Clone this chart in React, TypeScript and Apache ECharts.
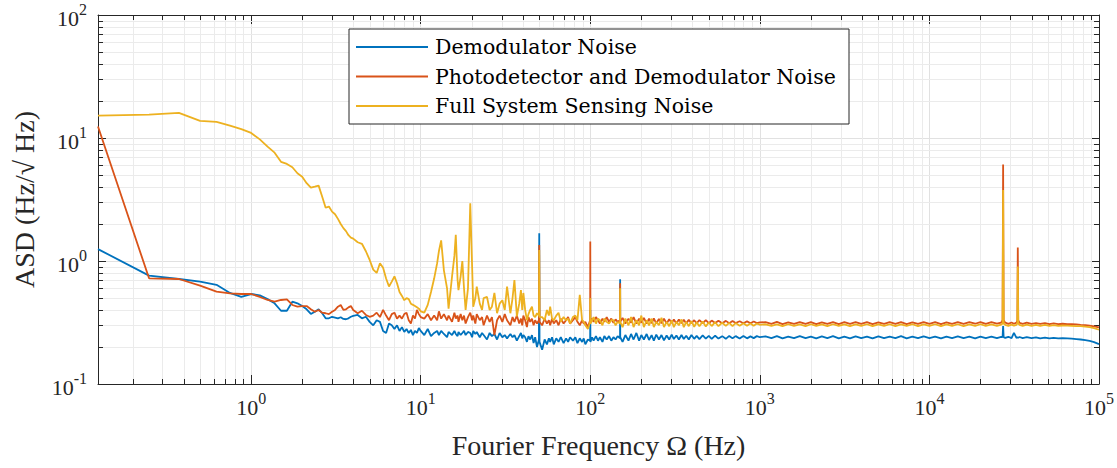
import React, { useEffect, useRef } from "react";
import * as echarts from "echarts";

// Fourier frequency bins (Hz)
const freqHz = [
  0.125, 0.25, 0.375, 0.5, 0.625, 0.75, 0.875, 1, 1.125, 1.25, 1.375, 1.5, 1.625, 1.75, 1.875, 2,
  2.125, 2.25, 2.375, 2.5, 2.625, 2.75, 2.875, 3, 3.125, 3.25, 3.375, 3.5, 3.625, 3.75, 3.875, 4,
  4.25, 4.5, 4.75, 5,
  5.25, 5.5, 5.75, 6, 6.25, 6.5, 6.75, 7, 7.25, 7.5, 7.75, 8, 8.25, 8.5, 8.75, 9, 9.25, 9.5, 9.75, 10,
  10.5, 11, 11.5, 12, 12.5, 12.8, 13.2, 13.7, 14.3, 14.6, 15.3, 15.8, 16.1, 16.5, 16.7, 17.2, 17.6, 18,
  18.4, 19, 19.6, 20.1, 20.4, 21, 21.4, 22.3, 23, 23.5, 24.6, 25.5, 26.3, 27.2, 28.2, 29.2, 30.3, 31.3,
  32.3, 33.8, 34.8, 35.7, 36.9, 38.1, 39, 39.7, 40.3, 41.3, 42.3, 43.2, 44.2, 45.3, 46.3, 47.3, 48.5,
  49.8, 50, 50.2,
  52, 53.8, 55.5, 57, 58, 59.5, 60.9, 63, 65, 67, 69.6, 72, 74, 76, 79, 81.6, 84, 86.7, 89.5, 91.5,
  93.5, 96.8, 99.8, 100, 100.2, 102.5, 104.6, 108, 111, 114, 118, 121, 125, 129, 133, 137, 141, 145,
  149.8, 150, 150.2,
  155, 161, 168, 174, 180, 187, 194, 200, 207, 215, 222, 230, 237, 245, 254, 263, 272, 282, 292, 302,
  311, 322, 333, 345, 356, 368, 381, 395, 410, 424, 440, 460, 480, 500, 520, 545, 570, 600, 630, 660,
  690, 720, 760, 800, 840, 880, 920, 960, 1000,
  1080, 1170, 1260, 1360, 1470, 1590, 1720, 1860, 2000, 2150, 2320, 2500, 2700, 2920, 3150, 3400,
  3670, 3960, 4280, 4620, 5000, 5400, 5830, 6300, 6800, 7340, 7930, 8560, 9250, 10000, 10800, 11700,
  12600, 13600, 14700, 15900, 17200, 18600, 20000, 21500, 23200, 25000, 26500, 27000, 27200, 27400,
  28000, 29200, 30500, 31500, 32600, 33000, 33200, 33400, 34000, 35500, 37500, 40000, 42500, 45000,
  48000, 51000, 54000, 57500, 61000, 65000, 69000, 73500, 78000, 83000, 88000, 93500, 100000,
];

// ASD, Hz/sqrt(Hz)
const demodulatorNoise = [
  1.25, 0.76, 0.714, 0.68, 0.64, 0.55, 0.51, 0.539, 0.526, 0.49, 0.453, 0.394, 0.394, 0.467, 0.453, 0.43,
  0.405, 0.371, 0.387, 0.405, 0.376, 0.342, 0.342, 0.352, 0.347, 0.342, 0.349, 0.338, 0.336, 0.342, 0.352, 0.358,
  0.364, 0.342, 0.352, 0.32,
  0.3, 0.33, 0.32, 0.27, 0.26, 0.31, 0.3, 0.28, 0.3, 0.27, 0.29, 0.265, 0.28, 0.26, 0.275, 0.25, 0.27, 0.26, 0.285, 0.27,
  0.25, 0.28, 0.245, 0.26, 0.27, 0.25, 0.27, 0.255, 0.24, 0.265, 0.25, 0.27, 0.255, 0.245, 0.265, 0.25, 0.26, 0.27,
  0.25, 0.265, 0.26, 0.24, 0.27, 0.255, 0.265, 0.24, 0.26, 0.25, 0.23, 0.26, 0.245, 0.255, 0.23, 0.26, 0.24, 0.25,
  0.235, 0.255, 0.24, 0.25, 0.225, 0.245, 0.26, 0.235, 0.25, 0.24, 0.22, 0.245, 0.23, 0.25, 0.215, 0.24, 0.2,
  0.23, 1.68, 0.22,
  0.19, 0.23, 0.21, 0.235, 0.22, 0.24, 0.21, 0.235, 0.22, 0.24, 0.215, 0.235, 0.22, 0.24, 0.225, 0.24, 0.215, 0.235, 0.22, 0.235,
  0.21, 0.23, 0.225, 0.4, 0.22, 0.24, 0.225, 0.245, 0.225, 0.24, 0.22, 0.245, 0.23, 0.245, 0.225, 0.24, 0.23, 0.245,
  0.235, 0.71, 0.24,
  0.22, 0.25, 0.225, 0.255, 0.23, 0.26, 0.225, 0.25, 0.23, 0.255, 0.228, 0.25, 0.225, 0.252, 0.23, 0.25, 0.226, 0.248, 0.23, 0.252,
  0.232, 0.248, 0.23, 0.25, 0.232, 0.247, 0.23, 0.25, 0.233, 0.246, 0.232, 0.248, 0.234, 0.246, 0.233, 0.247, 0.234, 0.245, 0.233, 0.246,
  0.235, 0.245, 0.234, 0.246, 0.235, 0.244, 0.236, 0.245, 0.24,
  0.244, 0.236, 0.245, 0.235, 0.243, 0.236, 0.245, 0.236, 0.243, 0.235, 0.244, 0.236, 0.245, 0.235, 0.243, 0.235,
  0.244, 0.236, 0.243, 0.235, 0.244, 0.236, 0.243, 0.236, 0.245, 0.235, 0.243, 0.236, 0.244, 0.236, 0.243, 0.235,
  0.243, 0.236, 0.244, 0.236, 0.243, 0.235, 0.243, 0.236, 0.243, 0.236, 0.242, 0.24, 0.296, 0.24,
  0.237, 0.242, 0.236, 0.26, 0.237, 0.239, 0.24, 0.238, 0.241, 0.236, 0.24, 0.236, 0.239, 0.235,
  0.238, 0.235, 0.237, 0.235, 0.236, 0.235, 0.234, 0.232, 0.23, 0.227, 0.224, 0.219, 0.211,
];

const photodetectorDemodNoise = [
  12.4, 0.723, 0.714, 0.63, 0.563, 0.545, 0.539, 0.539, 0.51, 0.482, 0.467, 0.482, 0.488, 0.439, 0.425, 0.43,
  0.43, 0.405, 0.387, 0.4, 0.38, 0.376, 0.37, 0.387, 0.4, 0.425, 0.439, 0.4, 0.405, 0.42, 0.43, 0.4,
  0.376, 0.394, 0.364, 0.352,
  0.36, 0.38, 0.35, 0.4, 0.36, 0.33, 0.37, 0.38, 0.34, 0.36, 0.34, 0.37, 0.38, 0.33, 0.31, 0.36, 0.34, 0.4, 0.37, 0.35,
  0.34, 0.37, 0.33, 0.36, 0.33, 0.39, 0.34, 0.37, 0.33, 0.36, 0.32, 0.38, 0.34, 0.36, 0.32, 0.37, 0.33, 0.36,
  0.31, 0.35, 0.38, 0.33, 0.36, 0.31, 0.37, 0.33, 0.35, 0.3, 0.36, 0.32, 0.35, 0.25, 0.33, 0.36, 0.32, 0.37,
  0.33, 0.3, 0.35, 0.32, 0.36, 0.31, 0.34, 0.3, 0.36, 0.33, 0.29, 0.35, 0.32, 0.34, 0.3, 0.33, 0.31,
  0.33, 1.35, 0.32,
  0.3, 0.34, 0.31, 0.33, 0.3, 0.34, 0.31, 0.33, 0.3, 0.34, 0.31, 0.33, 0.35, 0.31, 0.33, 0.35, 0.32, 0.3, 0.33, 0.31,
  0.32, 0.29, 0.33, 1.44, 0.32, 0.34, 0.32, 0.35, 0.33, 0.31, 0.34, 0.32, 0.35, 0.32, 0.34, 0.315, 0.335, 0.32,
  0.33, 0.66, 0.32,
  0.345, 0.31, 0.34, 0.315, 0.35, 0.31, 0.34, 0.315, 0.345, 0.31, 0.34, 0.312, 0.342, 0.31, 0.338, 0.312, 0.34, 0.31, 0.336, 0.313,
  0.335, 0.31, 0.334, 0.312, 0.333, 0.311, 0.332, 0.313, 0.33, 0.312, 0.331, 0.313, 0.33, 0.312, 0.328, 0.313, 0.327, 0.312, 0.326, 0.312,
  0.325, 0.313, 0.324, 0.312, 0.323, 0.312, 0.322, 0.313, 0.317,
  0.318, 0.308, 0.32, 0.307, 0.317, 0.308, 0.319, 0.308, 0.318, 0.307, 0.317, 0.308, 0.319, 0.307, 0.318, 0.308,
  0.318, 0.308, 0.319, 0.307, 0.317, 0.308, 0.318, 0.308, 0.319, 0.307, 0.317, 0.308, 0.318, 0.308, 0.319, 0.307,
  0.317, 0.308, 0.318, 0.308, 0.319, 0.309, 0.319, 0.308, 0.318, 0.309, 0.316, 0.33, 6.1, 0.33,
  0.315, 0.308, 0.316, 0.309, 0.315, 0.33, 1.29, 0.33, 0.314, 0.308, 0.315, 0.308, 0.313, 0.308,
  0.312, 0.307, 0.311, 0.307, 0.309, 0.307, 0.306, 0.305, 0.303, 0.301, 0.298, 0.294, 0.288,
];

const fullSystemNoise = [
  15.2, 15.5, 16.0, 13.8, 13.5, 12.6, 11.8, 11.0, 9.75, 8.5, 7.6, 6.4, 6.15, 5.78, 5.17, 4.85,
  4.29, 3.95, 4.02, 4.1, 3.33, 2.71, 2.77, 2.52, 2.4, 2.2, 2.0, 1.85, 1.75, 1.62, 1.55, 1.52,
  1.42, 1.38, 1.2, 1.02,
  0.85, 0.8, 0.96, 0.88, 0.72, 0.62, 0.68, 0.75, 0.66, 0.56, 0.52, 0.48, 0.5, 0.49, 0.45, 0.44, 0.43, 0.42, 0.41, 0.39,
  0.38, 0.44, 0.56, 0.72, 0.96, 1.2, 1.47, 0.84, 0.6, 0.41, 0.745, 1.1, 1.63, 0.7, 0.58, 0.75, 1.0, 0.6,
  0.4, 0.6, 2.94, 0.9, 0.425, 0.5, 0.618, 0.45, 0.4, 0.5, 0.51, 0.4, 0.425, 0.55, 0.376, 0.45, 0.48, 0.4,
  0.618, 0.376, 0.5, 0.7, 0.355, 0.45, 0.58, 0.4, 0.55, 0.4, 0.33, 0.37, 0.4, 0.425, 0.36, 0.35, 0.376,
  0.36, 1.23, 0.35,
  0.35, 0.33, 0.4, 0.36, 0.425, 0.34, 0.33, 0.36, 0.38, 0.32, 0.35, 0.33, 0.34, 0.31, 0.35, 0.36, 0.33, 0.53, 0.33, 0.32,
  0.3, 0.28, 0.32, 0.5, 0.31, 0.33, 0.35, 0.31, 0.34, 0.33, 0.3, 0.34, 0.32, 0.31, 0.33, 0.33, 0.3, 0.32,
  0.31, 0.6, 0.32,
  0.29, 0.34, 0.3, 0.35, 0.29, 0.33, 0.3, 0.36, 0.29, 0.33, 0.3, 0.34, 0.29, 0.32, 0.3, 0.345, 0.29, 0.32, 0.295, 0.33,
  0.29, 0.32, 0.3, 0.335, 0.29, 0.32, 0.295, 0.325, 0.292, 0.318, 0.295, 0.322, 0.294, 0.316, 0.296, 0.318, 0.295, 0.315, 0.297, 0.314,
  0.296, 0.313, 0.298, 0.312, 0.297, 0.311, 0.298, 0.31, 0.303,
  0.306, 0.297, 0.305, 0.296, 0.306, 0.297, 0.305, 0.296, 0.306, 0.297, 0.305, 0.296, 0.306, 0.297, 0.305, 0.296,
  0.305, 0.297, 0.306, 0.296, 0.305, 0.297, 0.306, 0.296, 0.305, 0.297, 0.306, 0.296, 0.305, 0.297, 0.306, 0.296,
  0.305, 0.297, 0.306, 0.296, 0.305, 0.297, 0.306, 0.297, 0.305, 0.297, 0.304, 0.31, 3.78, 0.31,
  0.303, 0.297, 0.304, 0.298, 0.303, 0.31, 0.9, 0.31, 0.303, 0.297, 0.304, 0.297, 0.303, 0.297,
  0.302, 0.297, 0.301, 0.297, 0.299, 0.298, 0.297, 0.296, 0.295, 0.293, 0.29, 0.285, 0.276,
];

const seriesNames = [
  "Demodulator Noise",
  "Photodetector and Demodulator Noise",
  "Full System Sensing Noise",
];
const seriesColors = ["#0072BD", "#D95319", "#EDB120"];

// minor (2..9 per decade) tick positions
const xMinorTicks = [
  0.2, 0.3, 0.4, 0.5, 0.6, 0.7, 0.8, 0.9,
  2, 3, 4, 5, 6, 7, 8, 9,
  20, 30, 40, 50, 60, 70, 80, 90,
  200, 300, 400, 500, 600, 700, 800, 900,
  2000, 3000, 4000, 5000, 6000, 7000, 8000, 9000,
  20000, 30000, 40000, 50000, 60000, 70000, 80000, 90000,
];
const yMinorTicks = [
  0.2, 0.3, 0.4, 0.5, 0.6, 0.7, 0.8, 0.9,
  2, 3, 4, 5, 6, 7, 8, 9,
  20, 30, 40, 50, 60, 70, 80, 90,
];

const X_MIN = 0.125;
const X_MAX = 100000;
const Y_MIN = 0.1;
const Y_MAX = 100;

const AXIS_COLOR = "#262626";
const GRID_MAJOR = "#e1e1e1";
const GRID_MINOR = "#ebebeb";
const SERIF = "'Liberation Serif', 'Times New Roman', serif";
const LEGEND_FONT = "'DejaVu Serif', serif";

const powerLabel = (v: number) => {
  const e = Math.log10(v);
  const r = Math.round(e);
  if (Math.abs(e - r) > 1e-6) return "";
  return `{b|10}{s|${r}}`;
};

const powerRich = {
  b: { fontFamily: SERIF, fontSize: 22, lineHeight: 28, verticalAlign: "bottom", color: AXIS_COLOR },
  s: { fontFamily: SERIF, fontSize: 16, lineHeight: 16, verticalAlign: "top", color: AXIS_COLOR },
};

export default function App() {
  const ref = useRef<HTMLDivElement>(null);

  useEffect(() => {
    if (!ref.current) return;
    const chart = echarts.init(ref.current, null, { renderer: "svg" });

    const lineSeries = [demodulatorNoise, photodetectorDemodNoise, fullSystemNoise].map((vals, i) => ({
      name: seriesNames[i],
      type: "line",
      xAxisIndex: 0,
      yAxisIndex: 0,
      data: freqHz.map((f, k) => [f, vals[k]]),
      symbol: "none",
      showSymbol: false,
      color: seriesColors[i],
      itemStyle: { color: seriesColors[i] },
      lineStyle: { color: seriesColors[i], width: 1.8 },
      z: 3,
      silent: true,
    }));

    const minorX = {
      type: "custom",
      xAxisIndex: 0,
      yAxisIndex: 0,
      silent: true,
      z: 1,
      clip: false,
      data: xMinorTicks.map((v) => [v, 1]),
      renderItem: (params: any, api: any) => {
        const cs = params.coordSys;
        const px = Math.round(api.coord([api.value(0), 1])[0]) + 0.5;
        const top = cs.y;
        const bottom = cs.y + cs.height;
        return {
          type: "group",
          children: [
            { type: "line", shape: { x1: px, y1: top, x2: px, y2: bottom }, style: { stroke: GRID_MINOR, lineWidth: 1 } },
            { type: "line", shape: { x1: px, y1: bottom - 5, x2: px, y2: bottom }, style: { stroke: AXIS_COLOR, lineWidth: 1 } },
            { type: "line", shape: { x1: px, y1: top, x2: px, y2: top + 5 }, style: { stroke: AXIS_COLOR, lineWidth: 1 } },
          ],
        };
      },
    };

    const minorY = {
      type: "custom",
      xAxisIndex: 0,
      yAxisIndex: 0,
      silent: true,
      z: 1,
      clip: false,
      data: yMinorTicks.map((v) => [1, v]),
      renderItem: (params: any, api: any) => {
        const cs = params.coordSys;
        const py = Math.round(api.coord([1, api.value(1)])[1]) + 0.5;
        const left = cs.x;
        const right = cs.x + cs.width;
        return {
          type: "group",
          children: [
            { type: "line", shape: { x1: left, y1: py, x2: right, y2: py }, style: { stroke: GRID_MINOR, lineWidth: 1 } },
            { type: "line", shape: { x1: left, y1: py, x2: left + 5, y2: py }, style: { stroke: AXIS_COLOR, lineWidth: 1 } },
            { type: "line", shape: { x1: right - 5, y1: py, x2: right, y2: py }, style: { stroke: AXIS_COLOR, lineWidth: 1 } },
          ],
        };
      },
    };

    const axisLine = { show: true, onZero: false, lineStyle: { color: AXIS_COLOR, width: 1 } };

    chart.setOption({
      animation: false,
      backgroundColor: "#ffffff",
      grid: { left: 98, right: 18, top: 15, bottom: 84, containLabel: false },
      legend: {
        data: seriesNames,
        orient: "vertical",
        left: 349,
        top: 29,
        padding: [6, 9, 6, 7],
        itemGap: 5.5,
        itemWidth: 72,
        itemHeight: 2,
        icon: "rect",
        backgroundColor: "#ffffff",
        borderColor: AXIS_COLOR,
        borderWidth: 1,
        borderRadius: 0,
        selectedMode: false,
        textStyle: {
          fontFamily: LEGEND_FONT,
          fontSize: 20.5,
          lineHeight: 24,
          color: "#000000",
          width: 405,
          padding: [0, 0, 0, 2],
        },
      },
      xAxis: [
        {
          type: "log",
          logBase: 10,
          min: X_MIN,
          max: X_MAX,
          position: "bottom",
          axisLine,
          axisTick: { show: true, inside: true, length: 9, lineStyle: { color: AXIS_COLOR } },
          axisLabel: { formatter: powerLabel, rich: powerRich, margin: 6, showMinLabel: false },
          splitLine: { show: true, lineStyle: { color: GRID_MAJOR, width: 1 } },
          minorTick: { show: false },
          name: "Fourier Frequency Ω (Hz)",
          nameLocation: "middle",
          nameGap: 47,
          nameTextStyle: { fontFamily: SERIF, fontSize: 28, color: AXIS_COLOR },
        },
        {
          type: "log",
          logBase: 10,
          min: X_MIN,
          max: X_MAX,
          position: "top",
          axisLine,
          axisTick: { show: true, inside: true, length: 9, lineStyle: { color: AXIS_COLOR } },
          axisLabel: { show: false },
          splitLine: { show: false },
        },
      ],
      yAxis: [
        {
          type: "log",
          logBase: 10,
          min: Y_MIN,
          max: Y_MAX,
          position: "left",
          axisLine,
          axisTick: { show: true, inside: true, length: 8, lineStyle: { color: AXIS_COLOR } },
          axisLabel: { formatter: powerLabel, rich: powerRich, margin: 11 },
          splitLine: { show: true, lineStyle: { color: GRID_MAJOR, width: 1 } },
          name: "ASD (Hz/√ Hz)",
          nameLocation: "middle",
          nameGap: 60,
          nameTextStyle: { fontFamily: SERIF, fontSize: 28, color: AXIS_COLOR },
        },
        {
          type: "log",
          logBase: 10,
          min: Y_MIN,
          max: Y_MAX,
          position: "right",
          axisLine,
          axisTick: { show: true, inside: true, length: 8, lineStyle: { color: AXIS_COLOR } },
          axisLabel: { show: false },
          splitLine: { show: false },
        },
      ],
      series: [minorX, minorY, ...lineSeries],
    });

    return () => chart.dispose();
  }, []);

  return (
    <div
      ref={ref}
      style={{ position: "fixed", left: 0, top: 0, width: 1117, height: 468, background: "#ffffff" }}
    />
  );
}
